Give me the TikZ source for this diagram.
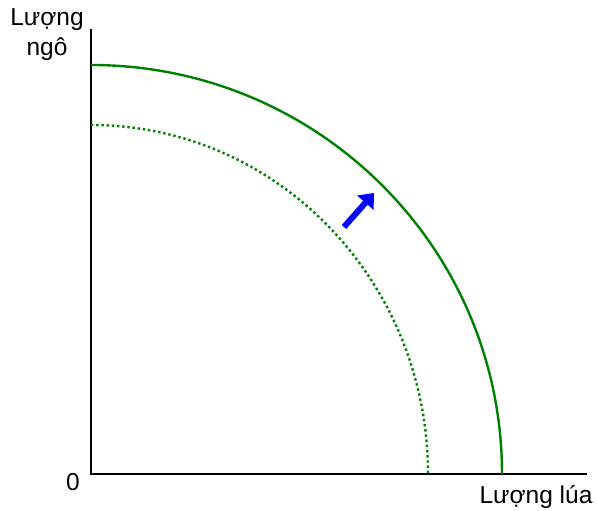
\documentclass[tikz,border=0pt]{standalone}
\usepackage{fontspec}
\setmainfont{Liberation Sans}
\usetikzlibrary{arrows.meta, positioning}
\definecolor{ppfgreen}{RGB}{0,128,0}
\definecolor{ppfblue}{RGB}{0,0,255}
\tikzset{
  axis/.style={line width=2.6pt, black},
  ppf/.style={line width=2.4pt, ppfgreen},
  ppfOld/.style={ppf, dash pattern=on 2.4pt off 2.8pt},
  shiftArr/.style={-{Triangle[length=13pt, width=21pt]}, line width=6pt, ppfblue},
  lbl/.style={font=\fontsize{24.5}{30}\selectfont, inner sep=0pt, align=center},
}
\begin{document}
\begin{tikzpicture}[x=1pt, y=1pt]
  \useasboundingbox (0,0) rectangle (597,511);

  % Axes
  \coordinate (O)    at (91,37);
  \coordinate (ytop) at (91,482);
  \coordinate (xend) at (587,37);
  \draw[axis] (ytop) -- (O) -- (xend);

  % Axis labels
  \node[lbl] (ylab) at (47,476) {Lượng\\ngô};
  \node[lbl] (zero) at (73,29) {0};
  \node[lbl] (xlab) at (536,14) {Lượng lúa};

  % Old frontier (dotted) and new frontier
  \draw[ppfOld] (91,386) arc[start angle=90, end angle=0, x radius=337, y radius=349];
  \draw[ppf] (91,446) arc[start angle=90, end angle=0, x radius=411, y radius=409];

  % Outward shift
  \coordinate (sfrom) at (344,284);
  \coordinate (sto)   at (374,318);
  \draw[shiftArr] (sfrom) -- (sto);
\end{tikzpicture}
\end{document}
